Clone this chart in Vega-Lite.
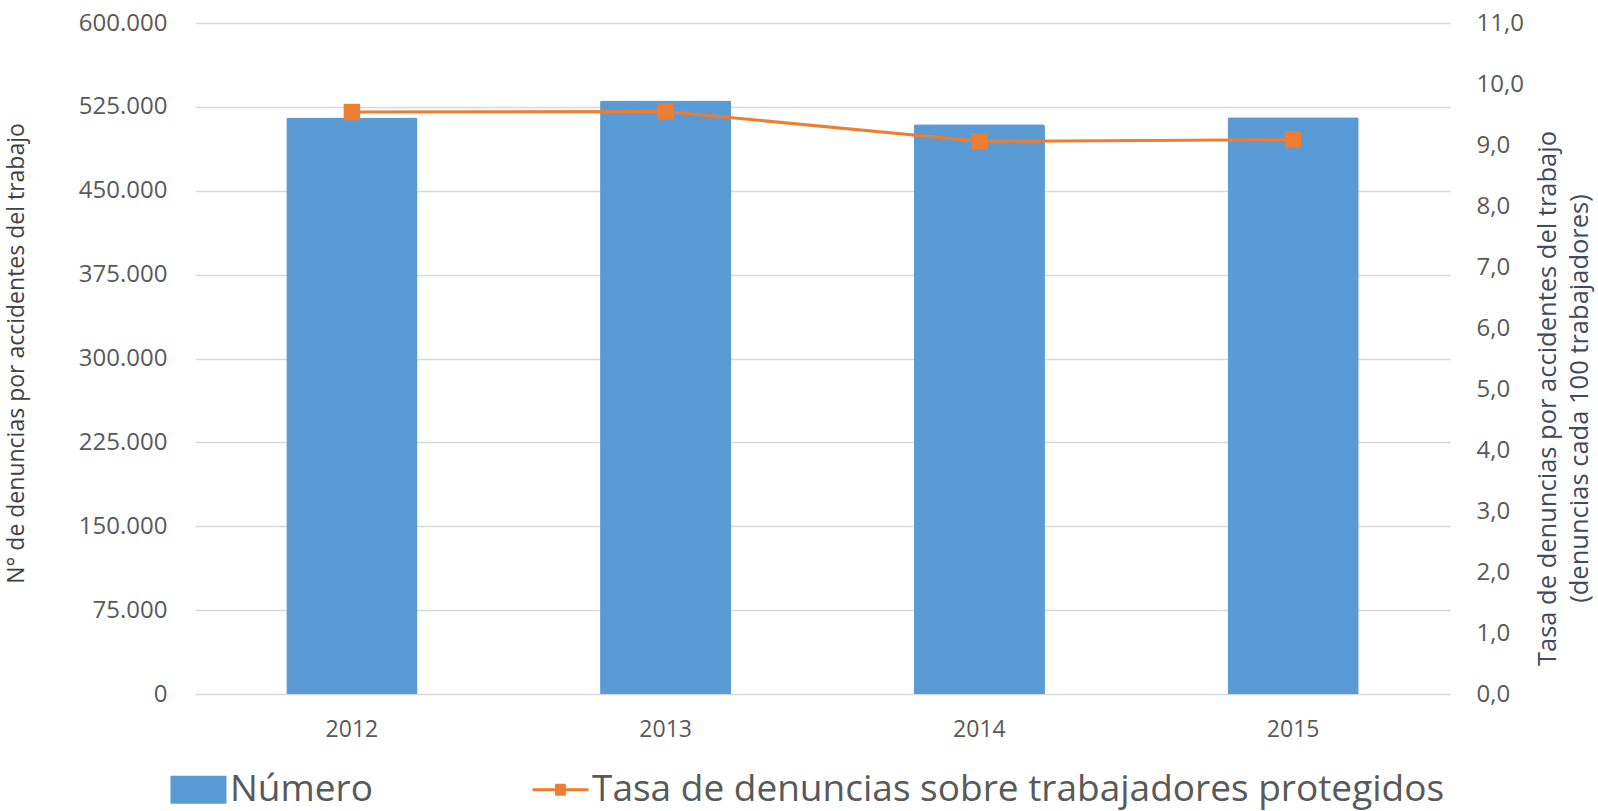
{
  "$schema": "https://vega.github.io/schema/vega-lite/v6.json",
  "width": 1255,
  "height": 671,
  "autosize": {"type": "none"},
  "padding": {"left": 195, "top": 23, "right": 148, "bottom": 117},
  "background": "#ffffff",
  "config": {
    "font": "Open Sans",
    "view": {"stroke": null},
    "locale": {"number": {"decimal": ",", "thousands": ".", "grouping": [3], "currency": ["", ""]}},
    "axis": {"labelColor": "#595959", "titleFontWeight": "normal", "ticks": false, "domain": false}
  },
  "data": {
    "values": [
      {"year": "2012", "numero": 515500, "tasa": 9.54},
      {"year": "2013", "numero": 530800, "tasa": 9.55},
      {"year": "2014", "numero": 509400, "tasa": 9.06},
      {"year": "2015", "numero": 515700, "tasa": 9.09}
    ]
  },
  "encoding": {
    "x": {
      "field": "year",
      "type": "ordinal",
      "scale": {"paddingInner": 0.582, "paddingOuter": 0.291},
      "axis": {"title": null, "labelAngle": 0, "labelFontSize": 23, "labelPadding": 24, "grid": false}
    }
  },
  "layer": [
    {
      "mark": {"type": "bar", "cornerRadiusTopLeft": 2, "cornerRadiusTopRight": 2},
      "encoding": {
        "y": {
          "field": "numero",
          "type": "quantitative",
          "scale": {"domain": [0, 600000], "nice": false},
          "axis": {
            "values": [0, 75000, 150000, 225000, 300000, 375000, 450000, 525000, 600000],
            "format": ",.0f",
            "grid": true,
            "gridColor": "#d9d9d9",
            "gridWidth": 1.5,
            "labelFontSize": 24,
            "labelPadding": 28,
            "title": "N° de denuncias por accidentes del trabajo",
            "titleFontSize": 23,
            "titleColor": "#404040",
            "titleBaseline": "alphabetic",
            "titleAlign": "center",
            "titleAngle": -90,
            "titleX": -172,
            "titleY": 330
          }
        },
        "color": {
          "datum": "Número",
          "type": "nominal",
          "scale": {
            "domain": ["Número", "Tasa de denuncias sobre trabajadores protegidos"],
            "range": ["#5b9bd5", "#ed7d31"]
          },
          "legend": {
            "title": null,
            "orient": "none",
            "legendX": -15,
            "legendY": 748,
            "direction": "horizontal",
            "padding": 0,
            "symbolSize": 3136,
            "labelFontSize": 37,
            "labelColor": "#595959",
            "labelOffset": 13,
            "labelLimit": 1200,
            "columnPadding": 153,
            "encode": {
              "symbols": {
                "update": {
                  "shape": {"signal": "datum.value === 'Número' ? 'M-1,-0.5H1V0.5H-1Z' : 'M-1,0H1M-0.14,-0.16H0.14V0.16H-0.14Z'"},
                  "fill": {"signal": "datum.value === 'Número' ? '#5b9bd5' : '#ed7d31'"},
                  "stroke": {"signal": "datum.value === 'Número' ? '#5b9bd5' : '#ed7d31'"},
                  "strokeWidth": {"signal": "datum.value === 'Número' ? 0 : 3"},
                  "opacity": {"value": 1},
                  "fillOpacity": {"value": 1}
                }
              }
            }
          }
        }
      }
    },
    {
      "encoding": {
        "y": {
          "field": "tasa",
          "type": "quantitative",
          "scale": {"domain": [0, 11], "nice": false},
          "axis": {
            "orient": "right",
            "values": [0, 1, 2, 3, 4, 5, 6, 7, 8, 9, 10, 11],
            "format": ".1f",
            "grid": false,
            "labelFontSize": 24,
            "labelPadding": 26,
            "title": ["Tasa de denuncias por accidentes del trabajo", "(denuncias  cada 100 trabajadores)"],
            "titleFontSize": 25.5,
            "titleColor": "#3f4b5b",
            "titleLineHeight": 32,
            "titleBaseline": "alphabetic",
            "titleAlign": "center",
            "titleAngle": -90,
            "titleX": 105,
            "titleY": 375
          }
        },
        "color": {"datum": "Tasa de denuncias sobre trabajadores protegidos", "type": "nominal"}
      },
      "layer": [
        {"mark": {"type": "line", "strokeWidth": 3}},
        {"mark": {"type": "point", "shape": "square", "filled": true, "size": 270, "opacity": 1}}
      ]
    }
  ],
  "resolve": {"scale": {"y": "independent"}}
}
